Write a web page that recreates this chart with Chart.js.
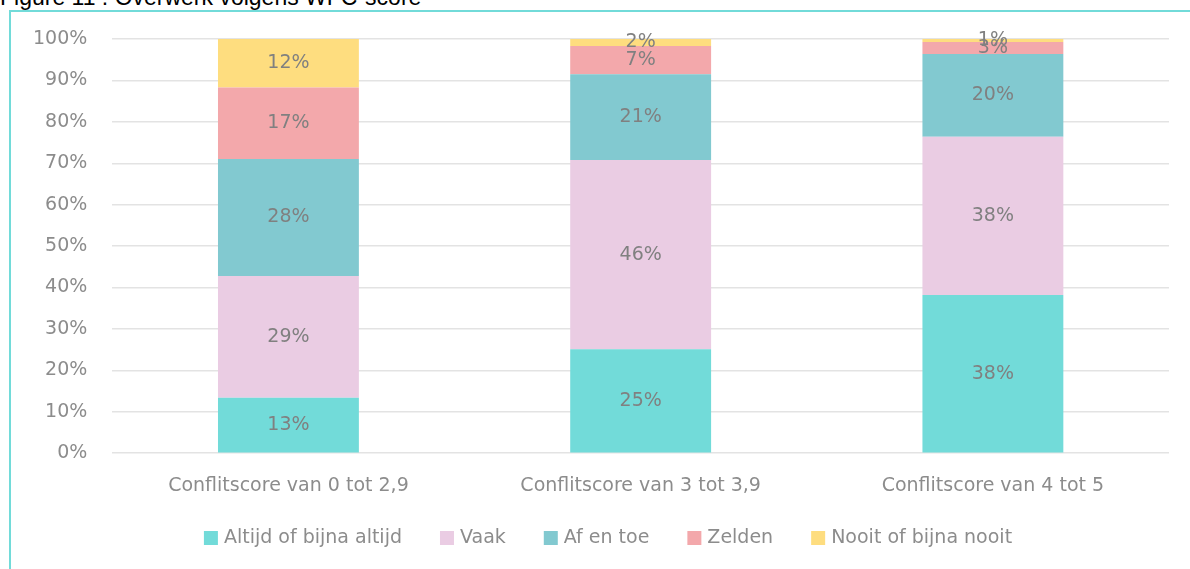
<!DOCTYPE html>
<html>
<head>
<meta charset="utf-8">
<script src="https://cdn.jsdelivr.net/npm/chart.js@4.4.0/dist/chart.umd.min.js"></script>
<style>
  html, body { margin: 0; padding: 0; background: #fff; overflow: hidden; }
  #title {
    position: absolute; left: 0; top: -16px;
    font-family: "Liberation Sans", Arial, sans-serif; font-size: 23px; color: #000;
    white-space: nowrap;
  }
  #frame {
    position: absolute; left: 9px; top: 10px; width: 1200px; height: 600px;
    border-left: 2px solid #72dbd9; border-top: 2px solid #72dbd9;
  }
  #wrap { position: absolute; left: 0; top: 0; width: 1190px; height: 569px; }
</style>
</head>
<body>
<div id="title">Figure 11 : Overwerk volgens WFC-score</div>
<div id="frame"></div>
<div id="wrap"><canvas id="chart"></canvas></div>
<script>
// categorieën en waarden (percentages per conflictscore)
const categories = ['Conflitscore van 0 tot 2,9', 'Conflitscore van 3 tot 3,9', 'Conflitscore van 4 tot 5'];
const altijd = [13.4, 25.1, 38.2];
const vaak = [29.4, 45.7, 38.2];
const afEnToe = [28.2, 20.7, 20.0];
const zelden = [17.3, 6.8, 2.9];
const nooit = [11.7, 1.7, 0.7];
const yTicks = [0, 10, 20, 30, 40, 50, 60, 70, 80, 90, 100];

const fontFam = '"DejaVu Sans", sans-serif';

const series = [
    { label: 'Altijd of bijna altijd', data: altijd, color: '#72dbd9' },
    { label: 'Vaak', data: vaak, color: '#eacce3' },
    { label: 'Af en toe', data: afEnToe, color: '#82c9d0' },
    { label: 'Zelden', data: zelden, color: '#f3a8ab' },
    { label: 'Nooit of bijna nooit', data: nooit, color: '#fedd7f' }
];

// labels in het midden van elk segment
const barLabels = {
    id: 'barLabels',
    afterDatasetsDraw(chart) {
        const ctx = chart.ctx;
        ctx.save();
        ctx.font = '19px ' + fontFam;
        ctx.fillStyle = '#808080';
        ctx.textAlign = 'center';
        ctx.textBaseline = 'middle';
        chart.data.datasets.forEach((ds, i) => {
            chart.getDatasetMeta(i).data.forEach((bar, j) => {
                const mid = (bar.y + bar.base) / 2;
                ctx.fillText(Math.round(ds.data[j]) + '%', bar.x, mid);
            });
        });
        ctx.restore();
    }
};

// eigen legenda onderaan (de standaard legenda laat te veel ruimte erboven)
const bottomLegend = {
    id: 'bottomLegend',
    afterDraw(chart) {
        const ctx = chart.ctx;
        const box = 14, gapBox = 6, gapItem = 38;
        ctx.save();
        ctx.font = '19px ' + fontFam;
        ctx.textBaseline = 'middle';
        const items = chart.data.datasets.map(ds => ({
            text: ds.label, color: ds.backgroundColor, w: ctx.measureText(ds.label).width
        }));
        const total = items.reduce((s, it) => s + box + gapBox + it.w, 0) + gapItem * (items.length - 1);
        let x = chart.width / 2 + 13 - total / 2;
        const y = chart.height - 31;
        items.forEach(it => {
            ctx.fillStyle = it.color;
            ctx.fillRect(x, y - box / 2, box, box);
            ctx.fillStyle = '#8c8c8c';
            ctx.fillText(it.text, x + box + gapBox, y);
            x += box + gapBox + it.w + gapItem;
        });
        ctx.restore();
    }
};

new Chart(document.getElementById('chart'), {
    type: 'bar',
    data: {
        labels: categories,
        datasets: series.map(s => ({
            label: s.label,
            data: s.data,
            backgroundColor: s.color,
            borderWidth: 0,
            categoryPercentage: 0.8,
            barPercentage: 0.5
        }))
    },
    options: {
        responsive: true,
        maintainAspectRatio: false,
        animation: false,
        layout: { padding: { left: 8, right: 21, top: 39, bottom: 59 } },
        plugins: {
            legend: { display: false },
            tooltip: { enabled: false }
        },
        scales: {
            x: {
                stacked: true,
                grid: { display: false },
                border: { display: false },
                ticks: { color: '#8c8c8c', padding: 13, font: { size: 19, family: fontFam } }
            },
            y: {
                stacked: true,
                min: 0, max: 100,
                afterBuildTicks: axis => { axis.ticks = yTicks.map(v => ({ value: v })); },
                grid: { color: '#e3e3e3', lineWidth: 1.5, drawTicks: false },
                border: { display: false },
                ticks: {
                    color: '#8c8c8c', padding: 25,
                    font: { size: 19, family: fontFam },
                    callback: v => v + '%'
                }
            }
        }
    },
    plugins: [barLabels, bottomLegend]
});
</script>
</body>
</html>
